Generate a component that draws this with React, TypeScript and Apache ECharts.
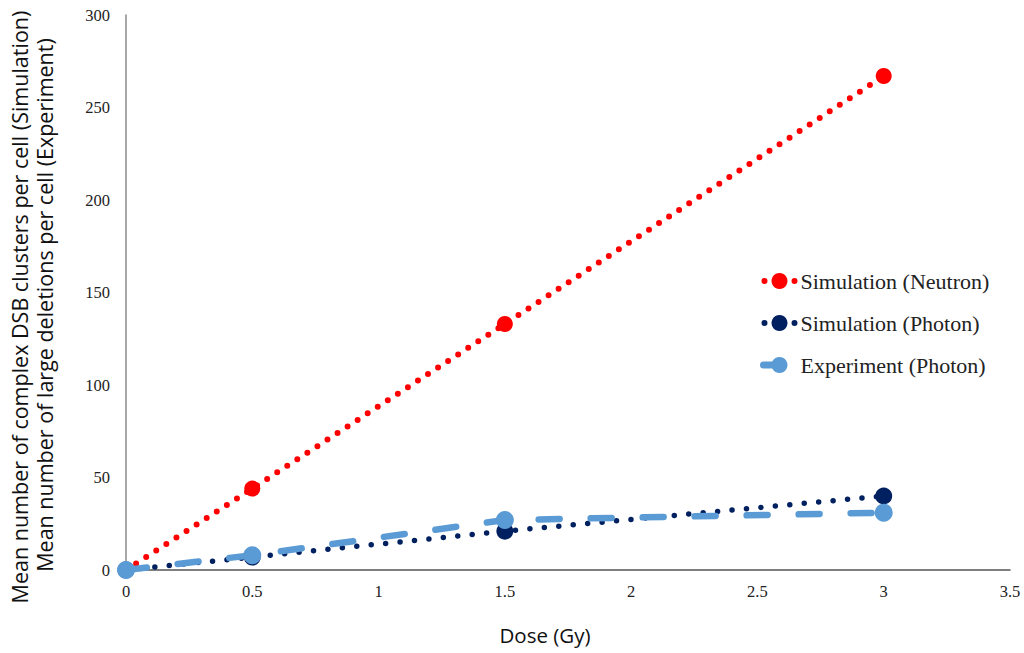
import React, { useEffect, useRef } from "react";
import * as echarts from "echarts";

const doses = [0, 0.5, 1.5, 3];
const neutronSim = [0, 44, 133, 267];
const photonSim = [0, 7, 21, 40];
const photonExp = [0, 8, 27, 31];
const seriesNames = ["Simulation (Neutron)", "Simulation (Photon)", "Experiment (Photon)"];
const yTitleLines = [
  "Mean number of complex DSB clusters per cell (Simulation)",
  "Mean number of large deletions per cell (Experiment)",
];
const xTitle = "Dose (Gy)";

const pairs = (ys: number[]) => doses.map((d, i) => [d, ys[i]]);

export default function App() {
  const ref = useRef<HTMLDivElement>(null);
  useEffect(() => {
    if (!ref.current) return;
    const chart = echarts.init(ref.current, undefined, { renderer: "svg" });
    const serif = "Liberation Serif";
    const sans = "Open Sans";
    const dotLegend = (color: string) => ({
      color,
      width: 6,
      type: [0, 30],
      dashOffset: -4,
      cap: "round",
    });
    chart.setOption({
      animation: false,
      backgroundColor: "#ffffff",
      grid: { left: 126, right: 14, top: 15, bottom: 83 },
      graphic: [
        {
          type: "text",
          x: 19,
          y: 307,
          rotation: Math.PI / 2,
          style: {
            text: yTitleLines[0],
            fontFamily: sans,
            fontSize: 21.5,
            fill: "#111",
            textAlign: "center",
            textVerticalAlign: "middle",
          },
        },
        {
          type: "text",
          x: 44,
          y: 305,
          rotation: Math.PI / 2,
          style: {
            text: yTitleLines[1],
            fontFamily: sans,
            fontSize: 21.5,
            fill: "#111",
            textAlign: "center",
            textVerticalAlign: "middle",
          },
        },
        {
          type: "text",
          x: 545,
          y: 635,
          style: {
            text: xTitle,
            fontFamily: sans,
            fontSize: 20.5,
            fill: "#111",
            textAlign: "center",
            textVerticalAlign: "middle",
          },
        },
      ],
      legend: {
        orient: "vertical",
        left: 752,
        top: 265,
        itemGap: 20,
        itemWidth: 38,
        itemHeight: 20,
        textStyle: { fontFamily: serif, fontSize: 22, color: "#222", padding: [0, 0, 0, -3] },
        data: [
          { name: seriesNames[0], lineStyle: dotLegend("#ff0000") },
          { name: seriesNames[1], lineStyle: dotLegend("#002060") },
          {
            name: seriesNames[2],
            lineStyle: { color: "#5b9bd5", width: 7, type: [16, 100], dashOffset: -3, cap: "round" },
          },
        ],
      },
      xAxis: {
        type: "value",
        min: 0,
        max: 3.5,
        interval: 0.5,
        axisLine: { lineStyle: { color: "#555", width: 1.5 } },
        axisTick: { show: false },
        splitLine: { show: false },
        axisLabel: { fontFamily: serif, fontSize: 16.5, color: "#222", margin: 13 },
      },
      yAxis: {
        type: "value",
        min: 0,
        max: 300,
        interval: 50,
        axisLine: { show: true, lineStyle: { color: "#8a8a8a", width: 1.5 } },
        axisTick: { show: false },
        splitLine: { show: false },
        axisLabel: { fontFamily: serif, fontSize: 16.5, color: "#222", margin: 16 },
      },
      series: [
        {
          name: seriesNames[0],
          type: "line",
          data: pairs(neutronSim),
          symbol: "circle",
          symbolSize: 16,
          itemStyle: { color: "#ff0000" },
          lineStyle: { color: "#ff0000", width: 6, type: [0, 12], cap: "round" },
          z: 2,
        },
        {
          name: seriesNames[1],
          type: "line",
          data: pairs(photonSim),
          symbol: "circle",
          symbolSize: 17,
          itemStyle: { color: "#002060" },
          lineStyle: { color: "#002060", width: 5.5, type: [0, 14.5], cap: "round" },
          z: 3,
        },
        {
          name: seriesNames[2],
          type: "line",
          data: pairs(photonExp),
          symbol: "circle",
          symbolSize: 18,
          itemStyle: { color: "#5b9bd5" },
          lineStyle: { color: "#5b9bd5", width: 6.5, type: [21, 31], cap: "round" },
          z: 4,
        },
      ],
    });
    return () => chart.dispose();
  }, []);
  return <div ref={ref} style={{ width: 1024, height: 653, position: "absolute", left: 0, top: 0 }} />;
}
